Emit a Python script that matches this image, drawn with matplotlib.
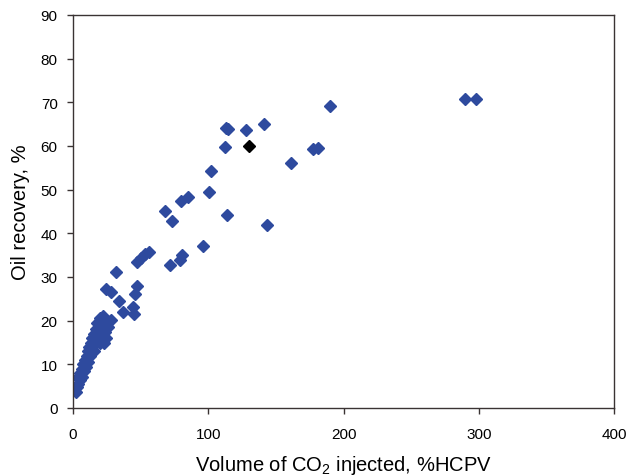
import matplotlib
matplotlib.use('Agg')
import matplotlib.pyplot as plt

plt.rcParams['font.family'] = 'Liberation Sans'
plt.rcParams['mathtext.fontset'] = 'custom'
plt.rcParams['mathtext.rm'] = 'Liberation Sans'

# CO2 injected (%HCPV) vs oil recovery (%)
co2_injected = [2, 3, 4, 3.5, 5, 5.5, 6.5, 6.5, 7.5, 8, 9, 9.5, 10, 11, 11,
                12, 12.5, 13, 14, 14, 15, 15.5, 16, 17, 15.5, 18, 18, 19, 20,
                20, 21, 22, 22, 23, 24, 24.5, 25, 28, 26, 23,
                24.2, 28, 31.8, 34, 36.6, 44, 45.3, 45.5, 47.3, 47, 50, 53, 56,
                68.3, 73.2, 72, 79.4, 80.7, 79.9, 84.8, 96.2, 100.7, 101.7,
                112.6, 112.8, 114.5, 113.8, 128.1, 141.2, 143.2, 161, 177.6,
                180.8, 190, 290.2, 297.6]
oil_recovery = [3.7, 4.8, 5.5, 7, 6.5, 8, 7, 9, 10, 8.5, 11, 9.5, 12, 10.5, 13,
                14, 12, 15, 13.5, 16, 14.5, 17, 15.5, 18, 13, 16.5, 19.5, 17.5, 20.5,
                15, 18.5, 21, 16, 19.5, 17.5, 16, 20, 20.2, 18.5, 15,
                27.3, 26.6, 31.2, 24.6, 22, 23.2, 21.6, 26.2, 28, 33.5, 34.3, 35.2, 35.8,
                45.2, 42.9, 32.7, 33.8, 35.0, 47.5, 48.4, 37.2, 49.4, 54.3,
                59.8, 64.2, 64.0, 44.3, 63.7, 65.0, 42.0, 56.2, 59.2,
                59.6, 69.1, 70.7, 70.7]

# highlighted case
hl_injected = [129.9]
hl_recovery = [60.0]

fig = plt.figure(figsize=(6.28, 4.77), dpi=100)
ax = fig.add_axes([73/628, 68/477, 541/628, 393/477])

ax.plot(co2_injected, oil_recovery, linestyle='none', marker='D', ms=6.6,
        color='#2E4A9E', mec='#2E4A9E')
ax.plot(hl_injected, hl_recovery, linestyle='none', marker='D', ms=6.6,
        color='black', mec='black')

ax.set_xlim(0, 400)
ax.set_ylim(0, 90)
ax.set_xticks(range(0, 401, 100))
ax.set_yticks(range(0, 91, 10))
for s in ax.spines.values():
    s.set_color('#3a3333')
    s.set_linewidth(1.0)
ax.tick_params(direction='out', length=4, width=1, color='#3a3333',
               labelsize=11, pad=7)
ax.tick_params(axis='x', pad=10)

ax.set_xlabel('Volume of CO$_\\mathregular{2}$ injected, %HCPV', fontsize=14.5, labelpad=8)
ax.set_ylabel('Oil recovery, %', fontsize=14.5, labelpad=8)

fig.savefig('out.png', dpi=100)
